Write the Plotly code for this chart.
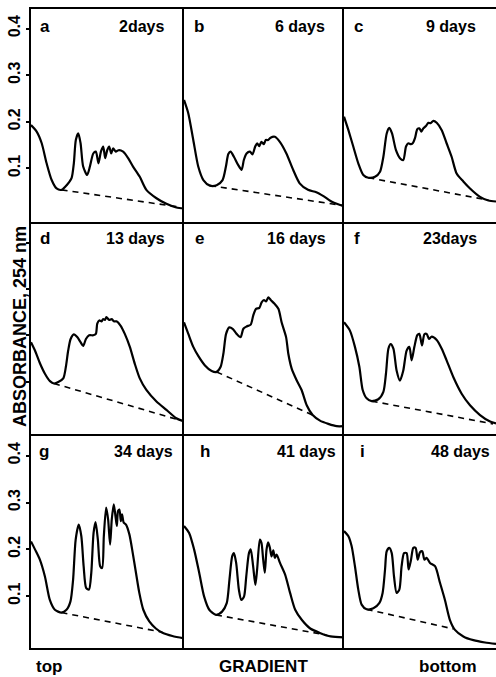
import plotly.graph_objects as go

# ---------------- data (gradient fraction 0..1, absorbance at 254 nm) ----------------
panel_letters = ["a", "b", "c", "d", "e", "f", "g", "h", "i"]
panel_days = ["2days", "6 days", "9 days", "13 days", "16 days", "23days", "34 days", "41 days", "48 days"]

a_x = [0, 0.037, 0.070, 0.102, 0.135, 0.167, 0.2, 0.233, 0.265, 0.28, 0.293, 0.309, 0.324, 0.341, 0.367, 0.385, 0.407, 0.424, 0.441, 0.457, 0.472, 0.485, 0.498, 0.511, 0.524, 0.537, 0.554, 0.572, 0.602, 0.635, 0.667, 0.711, 0.754, 0.82, 0.885, 0.95, 1.0]
a_y = [0.193, 0.179, 0.154, 0.111, 0.075, 0.057, 0.054, 0.064, 0.079, 0.111, 0.161, 0.175, 0.154, 0.104, 0.086, 0.104, 0.132, 0.136, 0.111, 0.136, 0.147, 0.122, 0.139, 0.147, 0.132, 0.143, 0.136, 0.139, 0.136, 0.122, 0.104, 0.082, 0.054, 0.036, 0.024, 0.016, 0.014]

b_x = [0, 0.027, 0.058, 0.089, 0.121, 0.162, 0.204, 0.241, 0.262, 0.277, 0.291, 0.312, 0.339, 0.36, 0.374, 0.391, 0.412, 0.428, 0.445, 0.457, 0.47, 0.484, 0.499, 0.511, 0.526, 0.541, 0.568, 0.599, 0.64, 0.682, 0.723, 0.775, 0.827, 0.869, 0.921, 0.963, 1.0]
b_y = [0.247, 0.218, 0.161, 0.104, 0.075, 0.063, 0.064, 0.075, 0.104, 0.131, 0.136, 0.125, 0.107, 0.097, 0.118, 0.132, 0.136, 0.130, 0.147, 0.154, 0.148, 0.157, 0.152, 0.161, 0.161, 0.166, 0.168, 0.157, 0.132, 0.097, 0.068, 0.054, 0.049, 0.041, 0.029, 0.023, 0.019]

c_x = [0.0, 0.029, 0.061, 0.094, 0.127, 0.16, 0.204, 0.237, 0.259, 0.281, 0.298, 0.316, 0.342, 0.368, 0.39, 0.408, 0.423, 0.439, 0.452, 0.467, 0.482, 0.496, 0.509, 0.522, 0.539, 0.555, 0.57, 0.588, 0.61, 0.643, 0.675, 0.708, 0.741, 0.785, 0.829, 0.895, 0.95, 1.0]
c_y = [0.211, 0.182, 0.147, 0.111, 0.086, 0.080, 0.082, 0.093, 0.125, 0.175, 0.187, 0.175, 0.139, 0.122, 0.118, 0.147, 0.154, 0.152, 0.154, 0.165, 0.184, 0.186, 0.179, 0.186, 0.191, 0.198, 0.197, 0.202, 0.198, 0.182, 0.154, 0.125, 0.089, 0.072, 0.057, 0.039, 0.031, 0.029]

d_x = [0, 0.026, 0.059, 0.091, 0.124, 0.15, 0.178, 0.211, 0.228, 0.243, 0.259, 0.28, 0.302, 0.324, 0.341, 0.359, 0.38, 0.407, 0.424, 0.433, 0.446, 0.461, 0.472, 0.483, 0.493, 0.511, 0.528, 0.541, 0.559, 0.585, 0.613, 0.646, 0.678, 0.711, 0.754, 0.82, 0.885, 0.95, 1.0]
d_y = [0.185, 0.167, 0.139, 0.117, 0.101, 0.096, 0.099, 0.107, 0.132, 0.167, 0.192, 0.202, 0.196, 0.185, 0.177, 0.192, 0.2, 0.2, 0.203, 0.225, 0.232, 0.230, 0.235, 0.233, 0.239, 0.233, 0.235, 0.230, 0.230, 0.221, 0.203, 0.175, 0.139, 0.107, 0.082, 0.057, 0.039, 0.021, 0.014]

e_x = [0.0, 0.027, 0.058, 0.09, 0.131, 0.173, 0.204, 0.229, 0.246, 0.263, 0.283, 0.304, 0.329, 0.354, 0.371, 0.392, 0.417, 0.433, 0.45, 0.471, 0.485, 0.5, 0.513, 0.527, 0.542, 0.563, 0.59, 0.61, 0.638, 0.652, 0.673, 0.704, 0.735, 0.767, 0.804, 0.85, 0.902, 0.954, 1.0]
e_y = [0.228, 0.203, 0.175, 0.155, 0.135, 0.123, 0.121, 0.132, 0.160, 0.203, 0.217, 0.214, 0.203, 0.196, 0.214, 0.219, 0.223, 0.243, 0.257, 0.259, 0.271, 0.276, 0.273, 0.282, 0.276, 0.269, 0.257, 0.228, 0.196, 0.160, 0.128, 0.103, 0.082, 0.049, 0.028, 0.016, 0.009, 0.004, 0.004]

f_x = [0.0, 0.039, 0.072, 0.101, 0.123, 0.149, 0.182, 0.226, 0.259, 0.276, 0.292, 0.307, 0.325, 0.346, 0.368, 0.39, 0.412, 0.43, 0.445, 0.463, 0.482, 0.496, 0.513, 0.529, 0.544, 0.559, 0.577, 0.61, 0.643, 0.675, 0.719, 0.774, 0.829, 0.895, 0.961, 1.0]
f_y = [0.228, 0.210, 0.175, 0.132, 0.082, 0.064, 0.058, 0.062, 0.078, 0.117, 0.171, 0.181, 0.171, 0.124, 0.102, 0.124, 0.167, 0.175, 0.146, 0.175, 0.200, 0.203, 0.178, 0.202, 0.203, 0.192, 0.197, 0.190, 0.171, 0.146, 0.110, 0.074, 0.049, 0.028, 0.014, 0.010]

g_x = [0, 0.026, 0.058, 0.091, 0.123, 0.156, 0.199, 0.232, 0.258, 0.275, 0.292, 0.312, 0.329, 0.344, 0.361, 0.379, 0.394, 0.409, 0.422, 0.437, 0.452, 0.465, 0.476, 0.491, 0.504, 0.517, 0.528, 0.541, 0.552, 0.561, 0.569, 0.578, 0.587, 0.595, 0.606, 0.621, 0.643, 0.665, 0.686, 0.708, 0.734, 0.773, 0.816, 0.859, 0.924, 1.0]
g_y = [0.217, 0.2, 0.178, 0.142, 0.092, 0.071, 0.065, 0.071, 0.089, 0.135, 0.221, 0.253, 0.228, 0.164, 0.117, 0.114, 0.150, 0.235, 0.258, 0.221, 0.164, 0.160, 0.228, 0.289, 0.264, 0.210, 0.264, 0.296, 0.271, 0.250, 0.282, 0.285, 0.260, 0.275, 0.257, 0.253, 0.232, 0.192, 0.150, 0.107, 0.071, 0.046, 0.031, 0.022, 0.015, 0.010]

h_x = [0.0, 0.032, 0.063, 0.095, 0.126, 0.158, 0.2, 0.238, 0.267, 0.284, 0.301, 0.312, 0.326, 0.343, 0.358, 0.375, 0.389, 0.406, 0.417, 0.432, 0.446, 0.457, 0.474, 0.484, 0.495, 0.505, 0.516, 0.526, 0.537, 0.547, 0.558, 0.568, 0.579, 0.6, 0.632, 0.663, 0.695, 0.737, 0.789, 0.853, 0.916, 1.0]
h_y = [0.250, 0.235, 0.2, 0.150, 0.099, 0.071, 0.060, 0.067, 0.085, 0.135, 0.185, 0.192, 0.171, 0.114, 0.092, 0.099, 0.142, 0.192, 0.2, 0.164, 0.124, 0.157, 0.221, 0.214, 0.178, 0.150, 0.2, 0.215, 0.203, 0.185, 0.198, 0.182, 0.189, 0.171, 0.146, 0.107, 0.071, 0.049, 0.031, 0.021, 0.014, 0.012]

i_x = [0.0, 0.029, 0.05, 0.072, 0.094, 0.116, 0.149, 0.193, 0.232, 0.254, 0.27, 0.281, 0.298, 0.314, 0.329, 0.346, 0.364, 0.379, 0.395, 0.412, 0.425, 0.441, 0.456, 0.471, 0.485, 0.5, 0.515, 0.529, 0.544, 0.566, 0.599, 0.632, 0.664, 0.697, 0.73, 0.785, 0.851, 0.928, 1.0]
i_y = [0.239, 0.228, 0.207, 0.164, 0.114, 0.082, 0.072, 0.074, 0.085, 0.107, 0.157, 0.196, 0.203, 0.192, 0.142, 0.107, 0.114, 0.164, 0.192, 0.192, 0.157, 0.178, 0.203, 0.203, 0.178, 0.194, 0.196, 0.178, 0.182, 0.171, 0.164, 0.128, 0.092, 0.049, 0.028, 0.014, 0.006, 0.001, -0.002]

# dashed baselines: [x_start, x_end], [y_start, y_end]
base_x = [[0.2, 0.95], [0.162, 1.0], [0.16, 0.95], [0.15, 0.95], [0.204, 0.804],
          [0.182, 0.98], [0.199, 0.859], [0.2, 0.89], [0.149, 0.72]]
base_y = [[0.054, 0.018], [0.063, 0.020], [0.080, 0.032], [0.096, 0.019], [0.121, 0.028],
          [0.058, 0.009], [0.065, 0.023], [0.060, 0.017], [0.072, 0.030]]

curves_x = [a_x, b_x, c_x, d_x, e_x, f_x, g_x, h_x, i_x]
curves_y = [a_y, b_y, c_y, d_y, e_y, f_y, g_y, h_y, i_y]

y_ticks = [0.1, 0.2, 0.3, 0.4]
y_tick_text = ["0.1", "0.2", "0.3", "0.4"]

# ---------------- layout helpers ----------------
W, H = 496, 677
ML, MR, MT, MB = 31, 0, 9, 29
col_px = [(31, 184), (184, 344), (344, 496)]
row_px = [(9, 222), (222, 434), (434, 648)]
row_ranges = [[-0.0150, 0.4421], [-0.0129, 0.4442], [-0.0107, 0.4464]]
pw = W - ML - MR
ph = H - MT - MB

letter_pos = [0.046, 0.05, 0.053, 0.046, 0.056, 0.053, 0.04, 0.0875, 0.092]
days_pos = [0.882, 0.894, 0.882, 0.889, 0.9, 0.888, 0.941, 0.9625, 0.974]

FONT = "Liberation Sans, Arial, sans-serif"

fig = go.Figure()
layout_axes = {}
annotations = []
for k in range(9):
    r, c = divmod(k, 3)
    idx = "" if k == 0 else str(k + 1)
    xa = "x" + idx
    ya = "y" + idx
    x0, x1 = col_px[c]
    y0, y1 = row_px[r]
    xdom = [(x0 - ML) / pw, (x1 - ML) / pw]
    ydom = [(H - MB - y1) / ph, (H - MB - y0) / ph]
    layout_axes["xaxis" + idx] = dict(
        domain=xdom, range=[0, 1], anchor=ya, showgrid=False, zeroline=False,
        showticklabels=False, ticks="", showline=True, mirror=(r == 0),
        linecolor="black", linewidth=2, automargin=False,
    )
    layout_axes["yaxis" + idx] = dict(
        domain=ydom, range=row_ranges[r], anchor=xa, showgrid=False, zeroline=False,
        showline=True, mirror=False, linecolor="black", linewidth=2, automargin=False,
        tickvals=y_ticks, ticktext=y_tick_text,
        ticks="outside" if c == 0 else "", ticklen=3, tickwidth=1.5, tickcolor="black",
        showticklabels=(c == 0 and r != 1), tickangle=-90,
        tickfont=dict(family=FONT, size=16, color="black", weight="bold"),
    )
    fig.add_trace(go.Scatter(
        x=curves_x[k], y=curves_y[k], mode="lines", xaxis=xa, yaxis=ya,
        line=dict(color="black", width=2.2, shape="spline", smoothing=0.7),
        showlegend=False, hoverinfo="skip", cliponaxis=True,
    ))
    fig.add_trace(go.Scatter(
        x=base_x[k], y=base_y[k], mode="lines", xaxis=xa, yaxis=ya,
        line=dict(color="black", width=1.6, dash="6px,5px"),
        showlegend=False, hoverinfo="skip",
    ))
    annotations.append(dict(
        text=panel_letters[k], xref=xa + " domain", yref=ya + " domain",
        x=letter_pos[k], y=0.92, xanchor="left", yanchor="middle", showarrow=False,
        font=dict(family=FONT, size=17, color="black", weight="bold"),
    ))
    annotations.append(dict(
        text=panel_days[k], xref=xa + " domain", yref=ya + " domain",
        x=days_pos[k], y=0.92, xanchor="right", yanchor="middle", showarrow=False,
        font=dict(family=FONT, size=16, color="black", weight="bold"),
    ))

# axis title and gradient labels
annotations.append(dict(
    text="ABSORBANCE, 254 nm", xref="paper", yref="paper",
    x=(20 - ML) / pw, y=(H - MB - 327) / ph, textangle=-90,
    xanchor="center", yanchor="middle", showarrow=False,
    font=dict(family=FONT, size=18, color="black", weight="bold"),
))
for txt, px, anchor in [("top", 34, "left"), ("GRADIENT", 263, "center"), ("bottom", 448, "center")]:
    annotations.append(dict(
        text=txt, xref="paper", yref="paper", x=(px - ML) / pw, y=(H - MB - 666) / ph,
        xanchor=anchor, yanchor="middle", showarrow=False,
        font=dict(family=FONT, size=17, color="black", weight="bold"),
    ))

fig.update_layout(
    width=W, height=H, margin=dict(l=ML, r=MR, t=MT, b=MB, pad=0, autoexpand=False),
    paper_bgcolor="white", plot_bgcolor="white",
    annotations=annotations, **layout_axes,
)

fig.write_html(
    "out.html",
    config={"displayModeBar": False},
    post_script="document.body.style.margin='0';document.body.style.overflow='hidden';",
)
